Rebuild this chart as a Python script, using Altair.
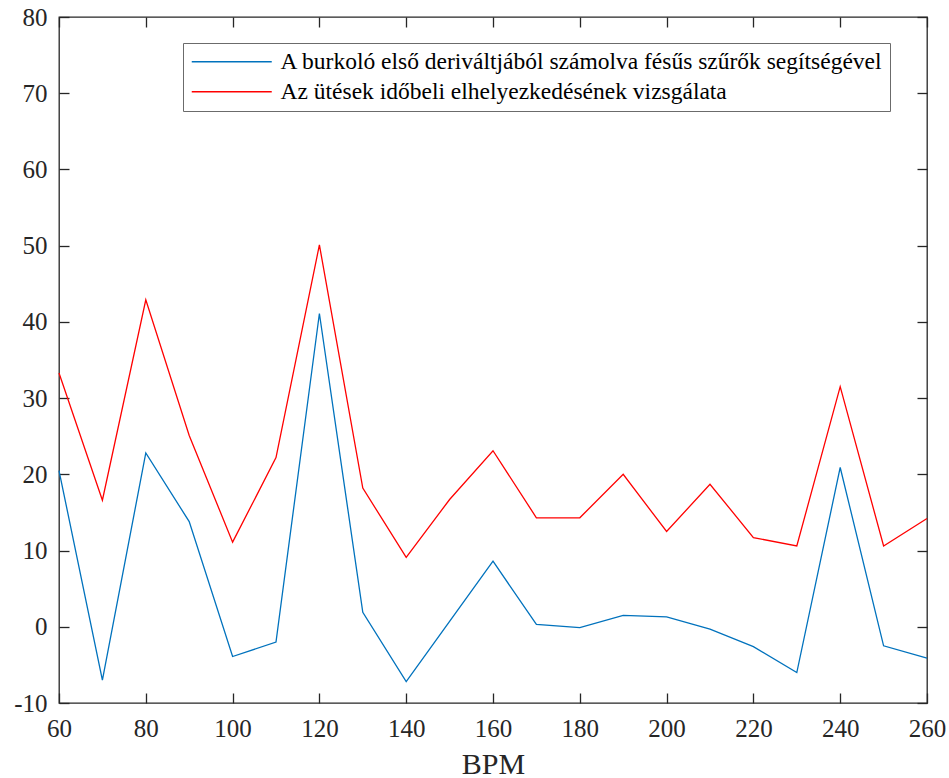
import altair as alt
import pandas as pd

bpm = [60, 70, 80, 90, 100, 110, 120, 130, 140, 150, 160, 170, 180, 190, 200, 210, 220, 230, 240, 250, 260]
blue_vals = [20.5, -7.0, 22.8, 13.8, -3.9, -2.0, 41.1, 1.9, -7.2, 0.7, 8.6, 0.3, -0.1, 1.5, 1.3, -0.3, -2.6, -6.0, 20.9, -2.5, -4.1]
red_vals = [33.3, 16.6, 42.9, 25.1, 11.1, 22.2, 50.1, 18.2, 9.1, 16.7, 23.1, 14.3, 14.3, 20.0, 12.5, 18.7, 11.7, 10.6, 31.5, 10.6, 14.2]
series_names = [
    "A burkoló első deriváltjából számolva fésűs szűrők segítségével",
    "Az ütések időbeli elhelyezkedésének vizsgálata",
]
series_colors = ["#0072BD", "#FF0000"]
x_ticks = [60, 80, 100, 120, 140, 160, 180, 200, 220, 240, 260]
y_ticks = [-10, 0, 10, 20, 30, 40, 50, 60, 70, 80]

rows = []
for name, vals in zip(series_names, [blue_vals, red_vals]):
    for b, v in zip(bpm, vals):
        rows.append({"bpm": b, "value": v, "series": name})
df = pd.DataFrame(rows)

FONT = "Liberation Serif"
INK = "#262626"

xscale = alt.Scale(domain=[60, 260], nice=False, zero=False)
yscale = alt.Scale(domain=[-10, 80], nice=False, zero=False)

bottom_axis = alt.Axis(
    orient="bottom", offset=-10, tickSize=10, domain=False, grid=False,
    values=x_ticks, labelFont=FONT, labelFontSize=25, labelColor=INK,
    labelPadding=13, labelFlush=False, labelOverlap=False,
    tickColor=INK, tickWidth=1.3,
    title="BPM", titleFont=FONT, titleFontSize=30, titleFontWeight="normal",
    titleColor=INK, titleBaseline="alphabetic", titleY=80,
)
left_axis = alt.Axis(
    orient="left", offset=-10, tickSize=10, domain=False, grid=False,
    values=y_ticks, labelFont=FONT, labelFontSize=25, labelColor=INK,
    labelPadding=12, labelFlush=False, labelOverlap=False,
    labelExpr="'' + datum.value",
    tickColor=INK, tickWidth=1.3, title=None,
)
top_axis = alt.Axis(
    orient="top", offset=-10, tickSize=10, domain=False, grid=False,
    values=x_ticks, labels=False, tickColor=INK, tickWidth=1.3, title=None,
)
right_axis = alt.Axis(
    orient="right", offset=-10, tickSize=10, domain=False, grid=False,
    values=y_ticks, labels=False, tickColor=INK, tickWidth=1.3, title=None,
)

lines = alt.Chart(df).mark_line(strokeWidth=1.3).encode(
    x=alt.X("bpm:Q", scale=xscale, axis=bottom_axis),
    y=alt.Y("value:Q", scale=yscale, axis=left_axis),
    color=alt.Color(
        "series:N",
        scale=alt.Scale(domain=series_names, range=series_colors),
        sort=series_names,
        legend=alt.Legend(
            orient="none", legendX=124, legendY=26, title=None,
            symbolType="M-2.5,0H17.5", symbolSize=64, symbolStrokeWidth=1.3,
            labelFont=FONT, labelFontSize=23.5, labelColor="#000000",
            labelLimit=1000, labelOffset=67, rowPadding=5,
            padding=7, strokeColor="#6b6b6b", fillColor="#ffffff",
        ),
    ),
    detail="series:N",
)

ghost = alt.Chart(df).mark_line(opacity=0).encode(
    x=alt.X("bpm:Q", scale=xscale, axis=top_axis),
    y=alt.Y("value:Q", scale=yscale, axis=right_axis),
    detail="series:N",
)

chart = alt.layer(lines, ghost).resolve_axis(x="independent", y="independent").properties(
    width=868, height=686,
    padding={"left": 59, "top": 17, "right": 22, "bottom": 75},
    autosize=alt.AutoSizeParams(type="none"),
    background="#ffffff",
).configure_view(stroke=INK, strokeWidth=1.3).configure_axis(
    labelFont=FONT, titleFont=FONT
).configure_legend(labelFont=FONT)

chart.save("out.html", embed_options={"renderer": "svg", "actions": False})
